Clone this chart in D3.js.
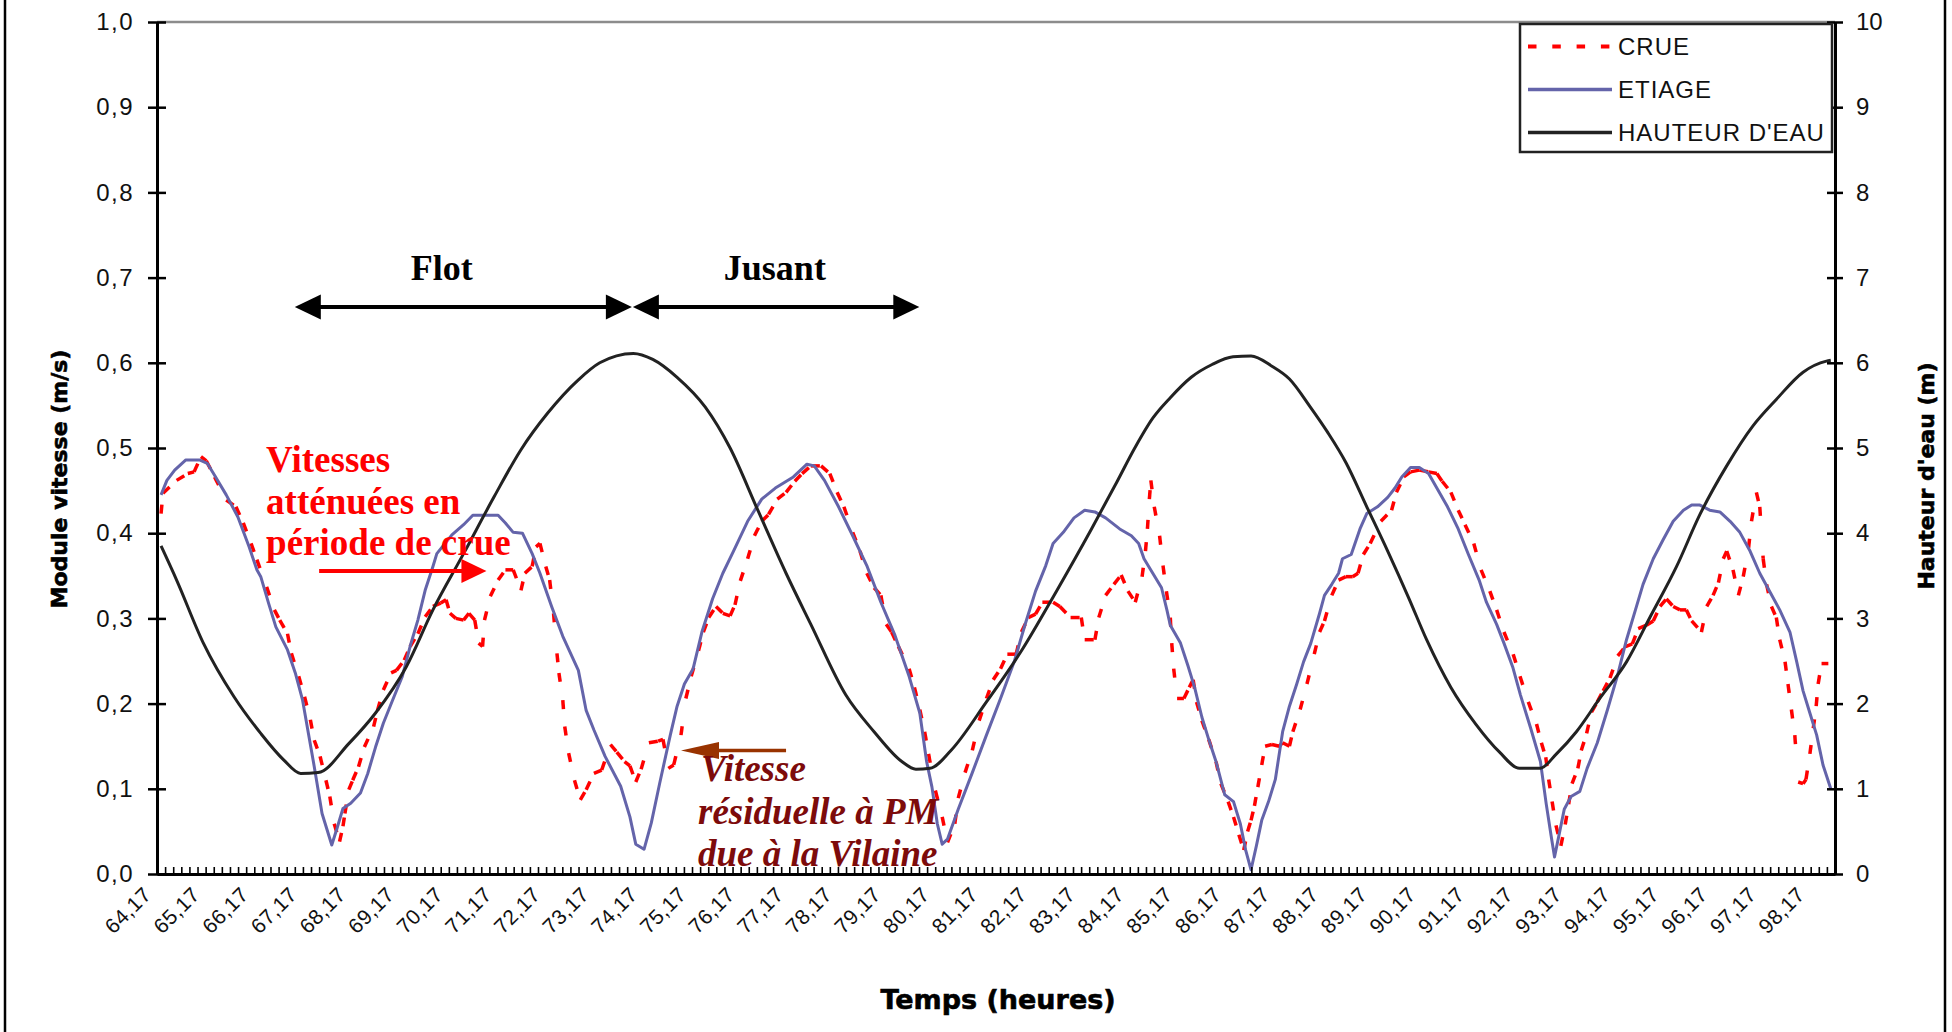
<!DOCTYPE html>
<html>
<head>
<meta charset="utf-8">
<script src="https://cdn.jsdelivr.net/npm/d3@7"></script>
<style>
  html, body { margin: 0; padding: 0; background: #fff; }
  svg { display: block; }
</style>
</head>
<body>
<svg id="chart" width="1952" height="1032"></svg>
<script>
// ---- Time axis: one category every 10 minutes, labelled every hour ----
const firstHour = 64.17;
const stepsPerHour = 6;
const nCategories = 207;
const timeLabels = ["64,17","65,17","66,17","67,17","68,17","69,17","70,17","71,17","72,17","73,17",
  "74,17","75,17","76,17","77,17","78,17","79,17","80,17","81,17","82,17","83,17","84,17","85,17",
  "86,17","87,17","88,17","89,17","90,17","91,17","92,17","93,17","94,17","95,17","96,17","97,17","98,17"];
const speedTicks = [0, 0.1, 0.2, 0.3, 0.4, 0.5, 0.6, 0.7, 0.8, 0.9, 1.0];
const levelTicks = [0, 1, 2, 3, 4, 5, 6, 7, 8, 9, 10];

// ---- Water level (m), secondary axis ----
const hauteurHours = [64.17,64.49,65.04,65.67,66.22,66.69,67.04,67.4,68.03,68.58,69.21,69.76,70.39,71.02,71.57,72.12,72.75,
  73.19,73.88,74.28,74.78,75.36,75.87,76.44,77.02,77.53,78.25,78.83,79.4,79.69,79.98,80.41,81.14,81.86,82.58,
  83.3,83.83,84.19,84.56,84.92,85.35,85.78,86.21,86.58,87.01,87.37,87.8,88.16,88.53,88.96,89.39,89.83,90.19,
  90.69,91.2,91.69,92.1,92.52,92.86,93.27,93.75,94.3,94.78,95.33,95.81,96.36,96.9,97.38,97.93,98.41,98.5];
const hauteurLevel = [3.85,3.45,2.71,2.08,1.65,1.34,1.18,1.19,1.53,1.89,2.43,3.10,3.76,4.43,4.98,5.41,5.80,
  6.0,6.11,6.04,5.83,5.48,5.0,4.27,3.53,2.93,2.10,1.67,1.32,1.23,1.24,1.45,2.02,2.62,3.32,
  4.05,4.61,5.0,5.35,5.59,5.83,5.98,6.07,6.08,5.96,5.81,5.48,5.18,4.83,4.31,3.79,3.23,2.75,
  2.19,1.76,1.43,1.24,1.24,1.41,1.67,2.06,2.49,3.01,3.61,4.22,4.79,5.26,5.57,5.89,6.02,6.03];

// ---- Low-flow (ETIAGE) current speed (m/s) ----
const etiageHours = [64.17,64.29,64.45,64.68,64.96,65.12,65.27,65.51,65.75,65.98,
  66.14,66.22,66.38,66.53,66.77,66.93,67.08,67.2,67.32,67.48,
  67.68,67.79,67.91,68.07,68.27,68.42,68.58,68.74,68.93,69.13,
  69.29,69.45,69.6,69.76,69.84,70.15,70.39,70.58,71.1,71.25,
  71.41,71.6,71.8,71.96,72.2,72.43,72.75,72.91,73.07,73.3,
  73.62,73.81,73.93,74.1,74.25,74.42,74.64,74.78,74.93,75.11,
  75.29,75.51,75.72,75.94,76.23,76.52,76.8,77.17,77.45,77.6,
  77.81,78.1,78.39,78.68,78.97,79.26,79.55,79.77,79.91,80.02,
  80.13,80.23,80.34,80.56,80.85,81.14,81.43,81.71,81.93,82.15,
  82.36,82.51,82.72,82.94,83.16,83.37,83.59,83.88,84.12,84.27,
  84.38,84.56,84.74,84.85,84.92,85.13,85.28,85.42,85.57,85.71,
  85.86,86.04,86.22,86.36,86.47,86.58,86.69,86.8,86.94,87.08,
  87.23,87.37,87.52,87.66,87.81,87.99,88.09,88.24,88.38,88.46,
  88.64,88.82,88.96,89.18,89.39,89.54,89.68,89.86,90.04,90.23,
  90.4,90.62,90.84,91.05,91.27,91.42,91.63,91.78,91.96,92.12,
  92.33,92.53,92.65,92.75,92.82,92.91,93.02,93.16,93.34,93.49,
  93.7,93.91,94.12,94.3,94.51,94.64,94.85,95.05,95.26,95.47,
  95.64,95.81,96.01,96.22,96.43,96.63,96.84,97.04,97.25,97.45,
  97.66,97.8,97.93,98.07,98.21,98.34,98.5];
const etiageSpeed = [0.445,0.462,0.474,0.486,0.486,0.482,0.468,0.445,0.419,0.384,
  0.357,0.349,0.318,0.290,0.263,0.236,0.204,0.165,0.126,0.071,
  0.034,0.054,0.077,0.083,0.095,0.118,0.149,0.177,0.204,0.232,
  0.267,0.298,0.333,0.361,0.376,0.398,0.410,0.421,0.421,0.412,
  0.401,0.400,0.376,0.353,0.314,0.279,0.239,0.192,0.169,0.138,
  0.103,0.067,0.035,0.029,0.060,0.106,0.163,0.197,0.223,0.241,
  0.284,0.323,0.353,0.379,0.414,0.440,0.453,0.466,0.481,0.479,
  0.462,0.431,0.397,0.362,0.319,0.280,0.232,0.189,0.132,0.102,
  0.059,0.035,0.041,0.076,0.119,0.163,0.206,0.249,0.292,0.332,
  0.362,0.388,0.401,0.418,0.427,0.425,0.418,0.405,0.397,0.388,
  0.370,0.353,0.336,0.310,0.292,0.271,0.245,0.219,0.184,0.158,
  0.132,0.093,0.085,0.059,0.028,0.005,0.033,0.063,0.085,0.111,
  0.167,0.197,0.223,0.249,0.271,0.306,0.327,0.340,0.353,0.370,
  0.375,0.405,0.423,0.431,0.442,0.453,0.466,0.477,0.477,0.470,
  0.453,0.431,0.405,0.375,0.345,0.319,0.293,0.271,0.243,0.210,
  0.171,0.132,0.082,0.045,0.020,0.045,0.076,0.091,0.097,0.124,
  0.154,0.193,0.234,0.275,0.315,0.340,0.370,0.392,0.414,0.427,
  0.433,0.433,0.427,0.425,0.414,0.401,0.379,0.353,0.331,0.310,
  0.284,0.249,0.215,0.189,0.163,0.128,0.100];

// ---- Flood (CRUE) current speed (m/s) ----
const crueHours = [64.17,64.21,64.49,64.72,64.85,64.99,65.1,65.27,65.51,65.71,
  65.86,66.02,66.14,66.34,66.5,66.61,66.77,66.85,67.0,67.12,
  67.24,67.32,67.44,67.56,67.64,67.73,67.84,67.91,67.95,68.03,
  68.11,68.23,68.35,68.54,68.62,68.74,68.9,69.01,69.17,69.29,
  69.45,69.6,69.76,69.92,70.03,70.11,70.23,70.39,70.5,70.62,
  70.7,70.78,70.82,70.94,71.1,71.25,71.41,71.57,71.65,71.8,
  71.88,71.96,72.08,72.16,72.24,72.31,72.35,72.43,72.47,72.55,
  72.67,72.79,72.91,73.07,73.23,73.41,73.54,73.7,73.81,73.93,
  74.04,74.2,74.39,74.49,74.6,74.71,74.86,74.96,75.07,75.22,
  75.32,75.43,75.58,75.72,75.87,75.97,76.08,76.23,76.37,76.52,
  76.66,76.84,77.02,77.2,77.35,77.53,77.74,77.92,78.07,78.21,
  78.39,78.54,78.68,78.83,78.97,79.08,79.19,79.33,79.55,79.66,
  79.77,79.87,79.95,80.09,80.23,80.34,80.49,80.56,80.7,80.85,
  80.99,81.14,81.28,81.43,81.57,81.75,81.86,82.0,82.15,82.29,
  82.51,82.65,82.87,83.09,83.16,83.37,83.45,83.59,83.76,83.91,
  84.05,84.2,84.34,84.41,84.45,84.49,84.52,84.59,84.7,84.77,
  84.84,84.92,84.95,84.99,85.06,85.2,85.31,85.39,85.46,85.57,
  85.71,85.86,85.96,86.11,86.22,86.33,86.43,86.51,86.58,86.65,
  86.72,86.8,86.87,87.01,87.16,87.23,87.37,87.44,87.59,87.73,
  87.88,87.99,88.09,88.24,88.38,88.53,88.67,88.78,88.89,89.03,
  89.25,89.47,89.57,89.72,89.86,90.04,90.23,90.4,90.51,90.69,
  90.84,90.98,91.16,91.31,91.49,91.63,91.78,91.97,92.11,92.28,
  92.45,92.55,92.64,92.7,92.77,92.85,92.95,93.04,93.11,93.18,
  93.3,93.37,93.48,93.58,93.7,93.82,93.96,94.12,94.28,94.42,
  94.54,94.71,94.85,94.99,95.12,95.26,95.4,95.53,95.64,95.84,
  95.95,96.08,96.19,96.29,96.36,96.49,96.6,96.7,96.81,96.87,
  96.97,97.04,97.11,97.18,97.28,97.38,97.45,97.56,97.62,97.69,
  97.76,97.83,97.93,97.99,98.07,98.14,98.2,98.24,98.31,98.45];
const crueSpeed = [0.423,0.447,0.462,0.470,0.472,0.490,0.485,0.466,0.439,0.431,
  0.412,0.388,0.369,0.337,0.310,0.298,0.282,0.259,0.232,0.208,
  0.181,0.157,0.138,0.110,0.091,0.059,0.038,0.056,0.071,0.099,
  0.110,0.126,0.149,0.173,0.192,0.216,0.236,0.239,0.251,0.267,
  0.282,0.302,0.314,0.318,0.322,0.306,0.300,0.298,0.306,0.298,
  0.271,0.267,0.298,0.326,0.345,0.357,0.357,0.333,0.353,0.361,
  0.384,0.388,0.361,0.345,0.306,0.259,0.236,0.204,0.173,0.142,
  0.110,0.087,0.099,0.118,0.122,0.152,0.143,0.132,0.127,0.108,
  0.123,0.154,0.156,0.158,0.124,0.128,0.163,0.206,0.232,0.262,
  0.284,0.301,0.314,0.306,0.303,0.316,0.344,0.370,0.397,0.414,
  0.422,0.440,0.448,0.461,0.470,0.479,0.479,0.470,0.448,0.431,
  0.401,0.379,0.353,0.336,0.327,0.293,0.284,0.267,0.241,0.219,
  0.193,0.167,0.141,0.098,0.067,0.037,0.059,0.089,0.119,0.145,
  0.180,0.206,0.228,0.241,0.258,0.258,0.284,0.301,0.305,0.319,
  0.319,0.314,0.301,0.301,0.275,0.275,0.301,0.327,0.340,0.351,
  0.332,0.319,0.349,0.379,0.405,0.440,0.462,0.431,0.397,0.362,
  0.332,0.301,0.271,0.241,0.206,0.206,0.219,0.228,0.202,0.180,
  0.158,0.132,0.106,0.085,0.067,0.046,0.028,0.050,0.063,0.080,
  0.102,0.128,0.150,0.152,0.150,0.154,0.150,0.167,0.193,0.223,
  0.258,0.284,0.297,0.327,0.345,0.349,0.349,0.353,0.375,0.388,
  0.414,0.427,0.448,0.466,0.472,0.474,0.472,0.470,0.461,0.448,
  0.427,0.410,0.388,0.357,0.332,0.310,0.284,0.258,0.232,0.202,
  0.176,0.154,0.137,0.111,0.085,0.057,0.033,0.058,0.082,0.106,
  0.124,0.145,0.165,0.190,0.202,0.215,0.230,0.256,0.267,0.270,
  0.288,0.292,0.297,0.314,0.323,0.314,0.310,0.310,0.297,0.284,
  0.314,0.327,0.342,0.370,0.379,0.357,0.327,0.349,0.383,0.414,
  0.448,0.431,0.370,0.340,0.314,0.301,0.275,0.249,0.223,0.193,
  0.163,0.108,0.106,0.111,0.141,0.171,0.197,0.223,0.247,0.247];

const seriesNames = ["CRUE", "ETIAGE", "HAUTEUR D'EAU"];

// ---- Layout ----
const plot = { left: 157, right: 1835, top: 22, bottom: 874 };
const sansFont = "'Liberation Sans', Arial, sans-serif";
const titleFont = "'DejaVu Sans', Verdana, sans-serif";
const serifFont = "'Liberation Serif', 'Times New Roman', serif";
const colors = { crue: "#ff0000", etiage: "#6464aa", hauteur: "#222222" };

const svg = d3.select("#chart");

const x = d3.scaleLinear()
  .domain([firstHour - 0.5 / stepsPerHour, firstHour + (nCategories - 0.5) / stepsPerHour])
  .range([plot.left, plot.right]);
const ySpeed = d3.scaleLinear().domain([0, 1]).range([plot.bottom, plot.top]);
const yLevel = d3.scaleLinear().domain([0, 10]).range([plot.bottom, plot.top]);

// Outer frame (left and right edges)
svg.append("line").attr("x1", 5).attr("x2", 5).attr("y1", 0).attr("y2", 1032)
  .attr("stroke", "#000").attr("stroke-width", 2.5);
svg.append("line").attr("x1", 1945).attr("x2", 1945).attr("y1", 0).attr("y2", 1032)
  .attr("stroke", "#000").attr("stroke-width", 2.5);

// Plot-area top border
svg.append("line").attr("x1", plot.left).attr("x2", plot.right)
  .attr("y1", plot.top).attr("y2", plot.top)
  .attr("stroke", "#8c8c8c").attr("stroke-width", 2.5);

// ---- Series ----
const crue = d3.zip(crueHours, crueSpeed);
const etiage = d3.zip(etiageHours, etiageSpeed);
const hauteur = d3.zip(hauteurHours, hauteurLevel);

const speedLine = d3.line().x(d => x(d[0])).y(d => ySpeed(d[1]));
const levelLine = d3.line().x(d => x(d[0])).y(d => yLevel(d[1])).curve(d3.curveMonotoneX);

// CRUE: dash pattern restarts on every segment, as the spreadsheet renderer does
svg.append("g").selectAll("path")
  .data(d3.pairs(crue))
  .join("path")
  .attr("d", d => speedLine(d))
  .attr("fill", "none")
  .attr("stroke", colors.crue)
  .attr("stroke-width", 3.5)
  .attr("stroke-dasharray", "9,40");

svg.append("path").datum(etiage)
  .attr("d", speedLine)
  .attr("fill", "none").attr("stroke", colors.etiage).attr("stroke-width", 3)
  .attr("stroke-linejoin", "round");

svg.append("path").datum(hauteur)
  .attr("d", levelLine)
  .attr("fill", "none").attr("stroke", colors.hauteur).attr("stroke-width", 3)
  .attr("stroke-linejoin", "round");

// ---- Axes ----
const fmtSpeed = d => d.toFixed(1).replace(".", ",");

const gLeft = svg.append("g").attr("transform", `translate(${plot.left},0)`)
  .call(d3.axisLeft(ySpeed).tickValues(speedTicks).tickFormat(fmtSpeed)
    .tickSizeInner(9).tickSizeOuter(0).tickPadding(14));
gLeft.select(".domain").attr("stroke", "#000").attr("stroke-width", 3);
gLeft.selectAll(".tick line").attr("x1", 9).attr("stroke", "#000").attr("stroke-width", 2.5);
gLeft.selectAll(".tick text").attr("font-family", sansFont).attr("font-size", 24)
  .attr("letter-spacing", 1.5).attr("fill", "#111");

const gRight = svg.append("g").attr("transform", `translate(${plot.right},0)`)
  .call(d3.axisRight(yLevel).tickValues(levelTicks).tickFormat(d3.format("d"))
    .tickSizeInner(8).tickSizeOuter(0).tickPadding(13));
gRight.select(".domain").attr("stroke", "#000").attr("stroke-width", 3);
gRight.selectAll(".tick line").attr("x1", -8).attr("stroke", "#000").attr("stroke-width", 2.5);
gRight.selectAll(".tick text").attr("font-family", sansFont).attr("font-size", 24).attr("fill", "#111");

// Category tick marks (between categories), pointing into the plot
const boundaries = d3.range(nCategories + 1).map(k => firstHour + (k - 0.5) / stepsPerHour);
const gBottom = svg.append("g").attr("transform", `translate(0,${plot.bottom})`)
  .call(d3.axisBottom(x).tickValues(boundaries).tickFormat(() => "")
    .tickSizeInner(-7).tickSizeOuter(0));
gBottom.select(".domain").attr("stroke", "#000").attr("stroke-width", 3);
gBottom.selectAll(".tick line").attr("stroke", "#000").attr("stroke-width", 1.6);

// Hour labels, rotated 45°
const labelHours = timeLabels.map(s => +s.replace(",", "."));
const gLabels = svg.append("g").attr("transform", `translate(0,${plot.bottom})`)
  .call(d3.axisBottom(x).tickValues(labelHours).tickFormat((d, i) => timeLabels[i])
    .tickSize(0).tickPadding(0));
gLabels.select(".domain").remove();
gLabels.selectAll(".tick text")
  .attr("x", 0).attr("y", 0).attr("dy", null)
  .attr("transform", "translate(-9,22) rotate(-45)")
  .attr("text-anchor", "end")
  .attr("font-family", sansFont).attr("font-size", 21).attr("letter-spacing", 0.5)
  .attr("fill", "#111");

// Axis titles
const titleStyle = sel => sel.attr("font-family", titleFont).attr("font-weight", "bold")
  .attr("stroke", "#000").attr("stroke-width", 0.6).attr("fill", "#000");
svg.append("text").attr("x", 998).attr("y", 1009).attr("text-anchor", "middle")
  .attr("font-size", 27).call(titleStyle).text("Temps (heures)");
svg.append("text").attr("transform", "translate(67,479) rotate(-90)").attr("text-anchor", "middle")
  .attr("font-size", 22).call(titleStyle).text("Module vitesse (m/s)");
svg.append("text").attr("transform", "translate(1934,476) rotate(-90)").attr("text-anchor", "middle")
  .attr("font-size", 22).call(titleStyle).text("Hauteur d'eau (m)");

// ---- Legend ----
const legend = svg.append("g");
legend.append("rect").attr("x", 1520).attr("y", 24).attr("width", 312).attr("height", 128)
  .attr("fill", "#fff").attr("stroke", "#222").attr("stroke-width", 2.5);
const legendStyles = [
  { color: colors.crue, dash: "8.5,15.8", width: 4 },
  { color: colors.etiage, dash: null, width: 3.5 },
  { color: colors.hauteur, dash: null, width: 3.5 }
];
const legendRows = [46.5, 89.5, 132.5];
seriesNames.forEach((name, i) => {
  legend.append("line").attr("x1", 1528).attr("x2", 1612)
    .attr("y1", legendRows[i]).attr("y2", legendRows[i])
    .attr("stroke", legendStyles[i].color).attr("stroke-width", legendStyles[i].width)
    .attr("stroke-dasharray", legendStyles[i].dash);
  legend.append("text").attr("x", 1618).attr("y", legendRows[i]).attr("dy", "0.36em")
    .attr("font-family", sansFont).attr("font-size", 24).attr("letter-spacing", 1)
    .attr("fill", "#111").text(name);
});

// ---- Annotations ----
function arrowHead(g, tipX, tipY, dir, len, half, color) {
  g.append("path")
    .attr("d", `M${tipX},${tipY} L${tipX - dir * len},${tipY - half} L${tipX - dir * len},${tipY + half} Z`)
    .attr("fill", color);
}
const ann = svg.append("g");

// Flood / ebb periods
const phaseY = ySpeed(0.6655);
const flotStart = x(66.92), flotEnd = x(73.85), jusantEnd = x(79.76);
ann.append("line").attr("x1", flotStart + 20).attr("x2", flotEnd - 20).attr("y1", phaseY).attr("y2", phaseY)
  .attr("stroke", "#000").attr("stroke-width", 4);
ann.append("line").attr("x1", flotEnd + 20).attr("x2", jusantEnd - 20).attr("y1", phaseY).attr("y2", phaseY)
  .attr("stroke", "#000").attr("stroke-width", 4);
arrowHead(ann, flotStart, phaseY, -1, 26, 12.5, "#000");
arrowHead(ann, flotEnd, phaseY, 1, 26, 12.5, "#000");
arrowHead(ann, flotEnd + 1, phaseY, -1, 26, 12.5, "#000");
arrowHead(ann, jusantEnd, phaseY, 1, 26, 12.5, "#000");

ann.append("text").attr("x", x(69.94)).attr("y", ySpeed(0.697)).attr("text-anchor", "middle")
  .attr("font-family", serifFont).attr("font-weight", "bold").attr("font-size", 36).text("Flot");
ann.append("text").attr("x", x(76.79)).attr("y", ySpeed(0.697)).attr("text-anchor", "middle")
  .attr("font-family", serifFont).attr("font-weight", "bold").attr("font-size", 36).text("Jusant");

// Attenuated speeds during flood
const redNote = ["Vitesses", "atténuées en", "période de crue"];
const redBase = [0.4718, 0.4231, 0.3744];
redNote.forEach((s, i) => {
  ann.append("text").attr("x", x(66.33)).attr("y", ySpeed(redBase[i]))
    .attr("font-family", serifFont).attr("font-weight", "bold").attr("font-size", 37)
    .attr("fill", "#ff0000").text(s);
});
const redY = ySpeed(0.3556);
ann.append("line").attr("x1", x(67.42)).attr("x2", x(70.86) - 20).attr("y1", redY).attr("y2", redY)
  .attr("stroke", "#ff0000").attr("stroke-width", 4);
arrowHead(ann, x(70.86), redY, 1, 25, 12, "#ff0000");

// Residual speed at high water
const brownY = ySpeed(0.145);
ann.append("line").attr("x1", x(77.02)).attr("x2", x(74.86) + 30).attr("y1", brownY).attr("y2", brownY)
  .attr("stroke", "#993300").attr("stroke-width", 3.5);
arrowHead(ann, x(74.86), brownY, -1, 38, 8.5, "#993300");

const brownNote = ["Vitesse", "résiduelle à PM", "due à la Vilaine"];
const brownBase = [0.1086, 0.0587, 0.0094];
brownNote.forEach((s, i) => {
  ann.append("text").attr("x", x(75.21) + (i === 0 ? 3 : 0)).attr("y", ySpeed(brownBase[i]))
    .attr("font-family", serifFont).attr("font-weight", "bold").attr("font-style", "italic")
    .attr("font-size", 37).attr("fill", "#7d0b0b").text(s);
});
</script>
</body>
</html>
